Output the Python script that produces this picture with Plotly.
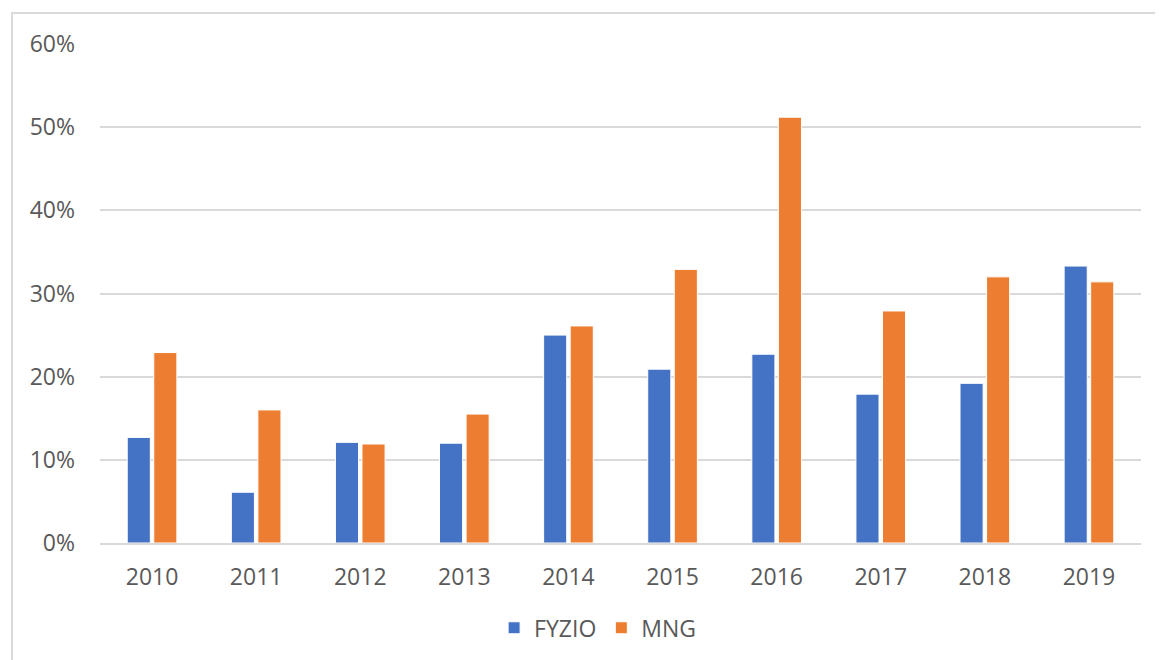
"""FYZIO vs MNG yearly share, Excel-style grouped bars."""

import plotly.graph_objects as go

YEARS = ["2010", "2011", "2012", "2013", "2014", "2015", "2016", "2017", "2018", "2019"]
FYZIO = [0.127, 0.061, 0.121, 0.120, 0.250, 0.209, 0.227, 0.179, 0.192, 0.333]
MNG = [0.229, 0.160, 0.119, 0.155, 0.261, 0.329, 0.512, 0.279, 0.320, 0.314]
Y_TICKS = [0, 0.1, 0.2, 0.3, 0.4, 0.5, 0.6]

BLUE = "#4472C4"
ORANGE = "#ED7D31"
GRID = "#D9D9D9"
TEXT = "#595959"
FONT = "Open Sans"

fig = go.Figure()
for name, vals, color in [("FYZIO", FYZIO, BLUE), ("MNG", MNG, ORANGE)]:
    fig.add_trace(
        go.Bar(
            x=YEARS,
            y=vals,
            name=name,
            marker=dict(color=color, line=dict(color="white", width=1)),
        )
    )

# chart frame, runs off the right and bottom edge of the capture
fig.add_shape(
    type="rect",
    xref="paper",
    yref="paper",
    x0=-0.0845,
    x1=1.05,
    y0=-0.3,
    y1=1.062,
    line=dict(color=GRID, width=2),
    layer="below",
)

# page body adds an 8px margin, so the figure is a bit smaller than the window
fig.update_layout(
    width=1155,
    height=652,
    margin=dict(l=92, r=22, t=36, b=117, autoexpand=False),
    paper_bgcolor="white",
    plot_bgcolor="white",
    barmode="group",
    bargap=0.49,
    bargroupgap=0.13,
    font=dict(family=FONT, size=23, color=TEXT),
    showlegend=True,
    legend=dict(
        orientation="h",
        x=0.478,
        xanchor="center",
        y=-0.17,
        yanchor="middle",
        font=dict(size=23, color=TEXT),
        itemwidth=30,
    ),
    xaxis=dict(
        showgrid=False,
        showline=True,
        linecolor=GRID,
        linewidth=2,
        ticks="",
        ticklabelstandoff=12,
        automargin=False,
    ),
    yaxis=dict(
        range=[0, 0.6],
        tickvals=Y_TICKS,
        tickformat=".0%",
        showgrid=True,
        gridcolor=GRID,
        gridwidth=2,
        zeroline=False,
        showline=False,
        ticks="",
        ticklabelstandoff=24,
        automargin=False,
    ),
)

fig.write_html("out.html")
